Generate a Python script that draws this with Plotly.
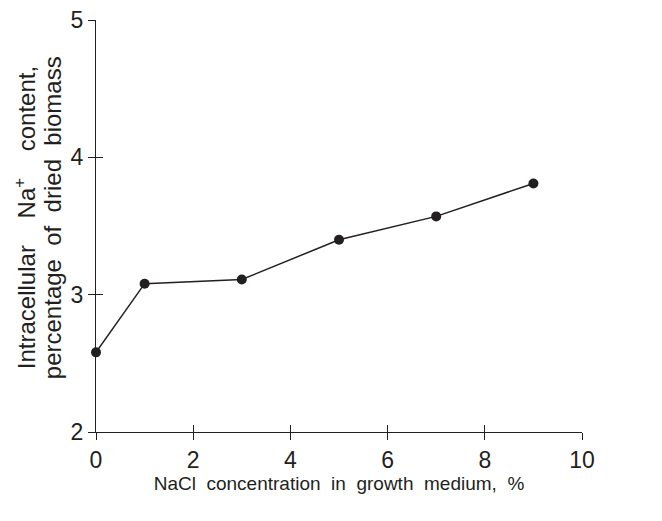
import plotly.graph_objects as go

nacl = [0, 1, 3, 5, 7, 9]
na_content = [2.58, 3.08, 3.11, 3.40, 3.57, 3.81]
x_ticks = [0, 2, 4, 6, 8, 10]
y_ticks = [2, 3, 4, 5]

x_title_words = ["NaCl", "concentration", "in", "growth", "medium,", "%"]
y_title_1_words = ["Intracellular", "Na<sup>+</sup>", "content,"]
y_title_2_words = ["percentage", "of", "dried", "biomass"]

ink = "#231f20"
font = "Liberation Sans, Arial, sans-serif"

x_title = ("\u00a0 ").join(x_title_words)
y_title_1 = ("\u00a0\u00a0\u00a0 ").join(y_title_1_words)
y_title_2 = ("\u00a0 ").join(y_title_2_words)

fig = go.Figure()
fig.add_trace(go.Scatter(
    x=nacl, y=na_content, mode="lines+markers",
    line=dict(color=ink, width=1.5),
    marker=dict(color=ink, size=10),
    cliponaxis=False, showlegend=False,
))
fig.add_trace(go.Scatter(x=[None], y=[None], xaxis="x2", yaxis="y2", showlegend=False))

common = dict(showgrid=False, zeroline=False, showline=True, linecolor=ink, linewidth=1.3,
              tickcolor=ink, tickwidth=1.3, ticklen=7)

for text, shift in [(y_title_1, -71), (y_title_2, -44)]:
    fig.add_annotation(text=text, xref="paper", yref="paper", x=0, y=0.519,
                       xanchor="center", yanchor="middle", xshift=shift,
                       textangle=-90, showarrow=False,
                       font=dict(size=24, family=font, color=ink))

fig.update_layout(
    width=662, height=521,
    margin=dict(l=88, r=88, t=12, b=97, autoexpand=False),
    paper_bgcolor="white", plot_bgcolor="white",
    font=dict(family=font, color=ink, size=21),
    xaxis=dict(range=[0, 10], tickvals=x_ticks, ticks="outside",
               tickfont=dict(size=23), ticklabeloverflow="allow", automargin=False,
               title=dict(text=x_title, font=dict(size=19), standoff=4),
               **common),
    yaxis=dict(range=[2, 5], tickvals=y_ticks, ticks="outside",
               tickfont=dict(size=23), ticklabeloverflow="allow", automargin=False,
               **common),
    xaxis2=dict(range=[0, 10], tickvals=x_ticks, ticks="inside", overlaying="x", side="bottom",
                showticklabels=False, anchor="y2", **common),
    yaxis2=dict(range=[2, 5], tickvals=y_ticks, ticks="inside", overlaying="y", side="left",
                showticklabels=False, anchor="x2", **common),
)

fig.write_html("out.html")
